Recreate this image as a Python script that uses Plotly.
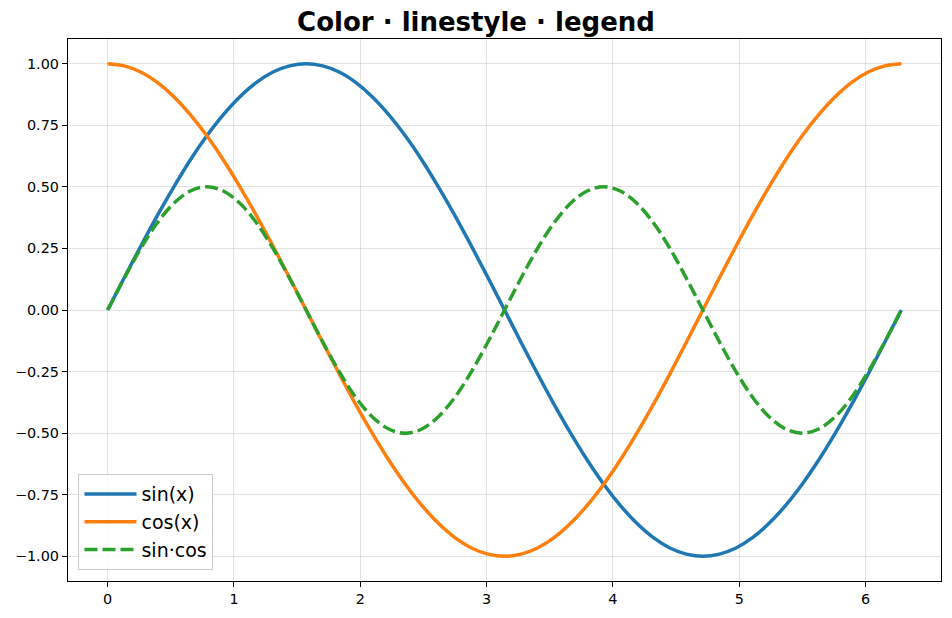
import plotly.graph_objects as go

x_vals = [0, 0.131, 0.262, 0.393, 0.524, 0.654, 0.785, 0.916, 1.047, 1.178, 1.309, 1.440, 1.571,
          1.702, 1.833, 1.963, 2.094, 2.225, 2.356, 2.487, 2.618, 2.749, 2.880, 3.011, 3.142,
          3.272, 3.403, 3.534, 3.665, 3.796, 3.927, 4.058, 4.189, 4.320, 4.451, 4.581, 4.712,
          4.843, 4.974, 5.105, 5.236, 5.367, 5.498, 5.629, 5.760, 5.890, 6.021, 6.152, 6.283]

sin_vals = [0.0, 0.131, 0.259, 0.383, 0.5, 0.609, 0.707, 0.793, 0.866, 0.924, 0.966, 0.991, 1.0,
            0.991, 0.966, 0.924, 0.866, 0.793, 0.707, 0.609, 0.5, 0.383, 0.259, 0.131, 0.0,
            -0.131, -0.259, -0.383, -0.5, -0.609, -0.707, -0.793, -0.866, -0.924, -0.966, -0.991, -1.0,
            -0.991, -0.966, -0.924, -0.866, -0.793, -0.707, -0.609, -0.5, -0.383, -0.259, -0.131, 0.0]

cos_vals = [1.0, 0.991, 0.966, 0.924, 0.866, 0.793, 0.707, 0.609, 0.5, 0.383, 0.259, 0.131, 0.0,
            -0.131, -0.259, -0.383, -0.5, -0.609, -0.707, -0.793, -0.866, -0.924, -0.966, -0.991, -1.0,
            -0.991, -0.966, -0.924, -0.866, -0.793, -0.707, -0.609, -0.5, -0.383, -0.259, -0.131, 0.0,
            0.131, 0.259, 0.383, 0.5, 0.609, 0.707, 0.793, 0.866, 0.924, 0.966, 0.991, 1.0]

sincos_vals = [0.0, 0.129, 0.25, 0.354, 0.433, 0.483, 0.5, 0.483, 0.433, 0.354, 0.25, 0.129, 0.0,
               -0.129, -0.25, -0.354, -0.433, -0.483, -0.5, -0.483, -0.433, -0.354, -0.25, -0.129, 0.0,
               0.129, 0.25, 0.354, 0.433, 0.483, 0.5, 0.483, 0.433, 0.354, 0.25, 0.129, 0.0,
               -0.129, -0.25, -0.354, -0.433, -0.483, -0.5, -0.483, -0.433, -0.354, -0.25, -0.129, 0.0]

series_names = ["sin(x)", "cos(x)", "sin·cos"]
series_colors = ["#1f77b4", "#ff7f0e", "#2ca02c"]
series_dash = ["solid", "solid", "13px,5px"]
x_ticks = [0, 1, 2, 3, 4, 5, 6]
y_ticks = [1.0, 0.75, 0.5, 0.25, 0.0, -0.25, -0.5, -0.75, -1.0]
y_tick_text = ["1.00", "0.75", "0.50", "0.25", "0.00", "−0.25", "−0.50", "−0.75", "−1.00"]

fig = go.Figure()
for name, ys, col, dash in zip(series_names, [sin_vals, cos_vals, sincos_vals], series_colors, series_dash):
    fig.add_trace(go.Scatter(x=x_vals, y=ys, mode="lines", name=name,
                             line=dict(color=col, width=3.5, dash=dash, shape="spline", smoothing=1)))

axis_common = dict(showline=True, linecolor="black", linewidth=1.2, mirror=True,
                   ticks="outside", ticklen=5, tickwidth=1.2, tickcolor="black",
                   showgrid=True, gridcolor="rgba(176,176,176,0.35)", gridwidth=1,
                   zeroline=False, tickfont=dict(family="DejaVu Sans", size=14.4, color="black"))

fig.update_xaxes(range=[-0.314, 6.597], tickvals=x_ticks, ticktext=[str(t) for t in x_ticks], **axis_common)
fig.update_yaxes(range=[-1.1, 1.1], tickvals=y_ticks, ticktext=y_tick_text, **axis_common)

fig.update_layout(
    width=952, height=618,
    margin=dict(l=68, r=11, t=39, b=37),
    paper_bgcolor="white", plot_bgcolor="white",
    title=dict(text="<b>Color · linestyle · legend</b>", x=0.5, xanchor="center",
               y=1 - 22 / 618, yanchor="middle",
               font=dict(family="DejaVu Sans", size=26, color="black")),
    legend=dict(x=0.012, y=0.02, xanchor="left", yanchor="bottom",
                bgcolor="rgba(255,255,255,0.8)", bordercolor="#cccccc", borderwidth=1,
                font=dict(family="DejaVu Sans", size=19, color="black"),
                itemwidth=52, tracegroupgap=0),
    showlegend=True,
)

fig.write_html("out.html")
